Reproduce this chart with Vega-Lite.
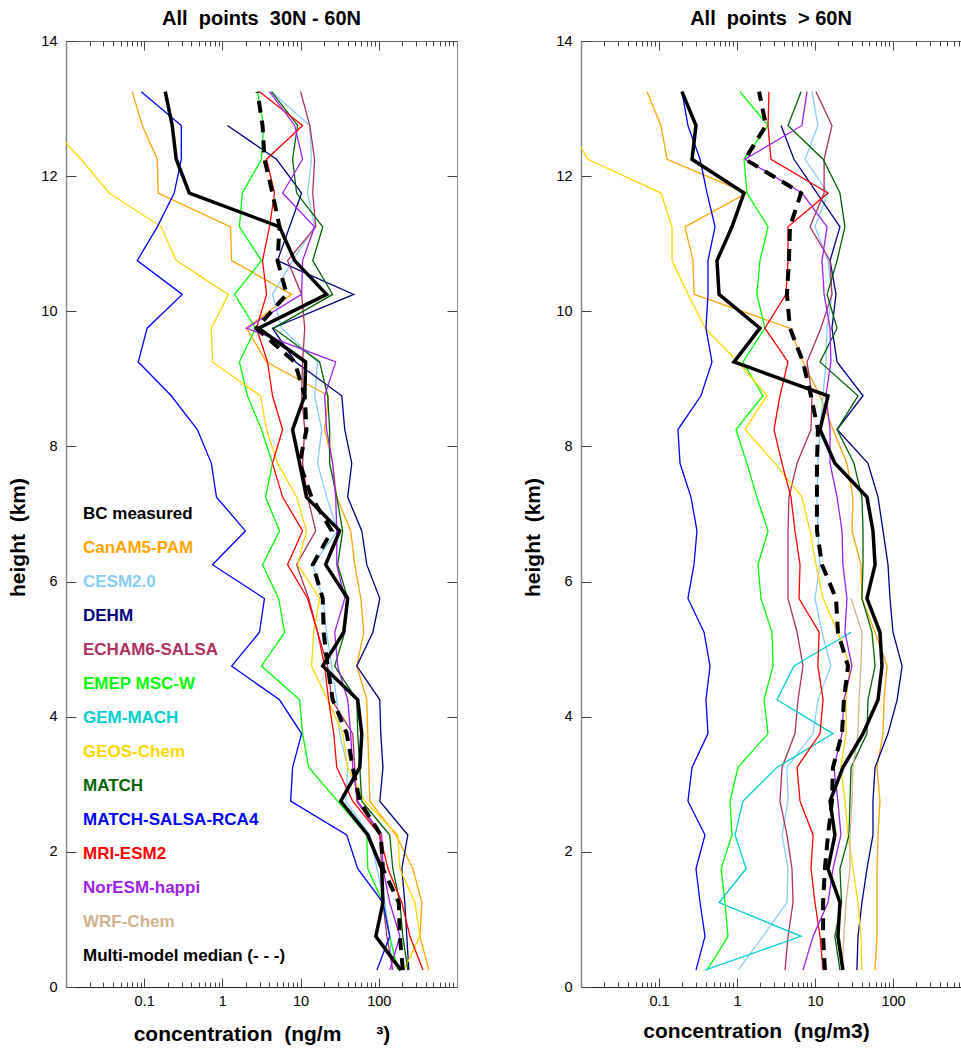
{
"$schema":"https://vega.github.io/schema/vega-lite/v6.json",
"padding":{"left":7,"top":9,"right":0,"bottom":0},
"spacing":64,
"config":{"font":"Liberation Sans","view":{"stroke":null},
"axis":{"labelFont":"Liberation Sans","labelFontSize":14.5,"labelColor":"#000","titleFont":"Liberation Sans","titleFontSize":21,"titleFontWeight":"bold","titleColor":"#000","grid":false,"domainColor":"#666","tickColor":"#444"},
"title":{"font":"Liberation Sans","fontSize":20,"fontWeight":"bold","color":"#000","offset":4}},
"datasets":{
"left":[
{"s":"BC measured","h":13.25,"c":0.186},{"s":"BC measured","h":12.75,"c":0.228},{"s":"BC measured","h":12.25,"c":0.257},{"s":"BC measured","h":11.75,"c":0.378},{"s":"BC measured","h":11.25,"c":5.38},{"s":"BC measured","h":10.75,"c":8.4},{"s":"BC measured","h":10.25,"c":21.5},{"s":"BC measured","h":9.75,"c":2.9},{"s":"BC measured","h":9.25,"c":11.6},{"s":"BC measured","h":8.75,"c":11.3},{"s":"BC measured","h":8.25,"c":7.9},{"s":"BC measured","h":7.75,"c":9.71},{"s":"BC measured","h":7.25,"c":11.9},{"s":"BC measured","h":6.75,"c":31.6},{"s":"BC measured","h":6.25,"c":20.9},{"s":"BC measured","h":5.75,"c":40},{"s":"BC measured","h":5.25,"c":35.6},{"s":"BC measured","h":4.75,"c":19.2},{"s":"BC measured","h":4.25,"c":53.8},{"s":"BC measured","h":3.75,"c":60.6},{"s":"BC measured","h":3.25,"c":57.1},{"s":"BC measured","h":2.75,"c":32.6},{"s":"BC measured","h":2.25,"c":72.3},{"s":"BC measured","h":1.75,"c":109},{"s":"BC measured","h":1.25,"c":113},{"s":"BC measured","h":0.75,"c":91.6},{"s":"BC measured","h":0.25,"c":192},
{"s":"Multi-model median (- - -)","h":13.25,"c":2.81},{"s":"Multi-model median (- - -)","h":12.75,"c":3.26},{"s":"Multi-model median (- - -)","h":12.25,"c":3.45},{"s":"Multi-model median (- - -)","h":11.75,"c":4.37},{"s":"Multi-model median (- - -)","h":11.25,"c":5.38},{"s":"Multi-model median (- - -)","h":10.75,"c":5.07},{"s":"Multi-model median (- - -)","h":10.25,"c":6.63},{"s":"Multi-model median (- - -)","h":9.75,"c":2.73},{"s":"Multi-model median (- - -)","h":9.25,"c":8.4},{"s":"Multi-model median (- - -)","h":8.75,"c":11.3},{"s":"Multi-model median (- - -)","h":8.25,"c":11.9},{"s":"Multi-model median (- - -)","h":7.75,"c":9.71},{"s":"Multi-model median (- - -)","h":7.25,"c":13.8},{"s":"Multi-model median (- - -)","h":6.75,"c":25},{"s":"Multi-model median (- - -)","h":6.25,"c":14.3},{"s":"Multi-model median (- - -)","h":5.75,"c":19.2},{"s":"Multi-model median (- - -)","h":5.25,"c":19.7},{"s":"Multi-model median (- - -)","h":4.75,"c":22.2},{"s":"Multi-model median (- - -)","h":4.25,"c":25.7},{"s":"Multi-model median (- - -)","h":3.75,"c":38.9},{"s":"Multi-model median (- - -)","h":3.25,"c":46.4},{"s":"Multi-model median (- - -)","h":2.75,"c":57.1},{"s":"Multi-model median (- - -)","h":2.25,"c":106},{"s":"Multi-model median (- - -)","h":1.75,"c":113},{"s":"Multi-model median (- - -)","h":1.25,"c":180},{"s":"Multi-model median (- - -)","h":0.75,"c":186},{"s":"Multi-model median (- - -)","h":0.25,"c":203},
{"s":"CanAM5-PAM","h":13.25,"c":0.0702},{"s":"CanAM5-PAM","h":12.75,"c":0.0946},{"s":"CanAM5-PAM","h":12.25,"c":0.147},{"s":"CanAM5-PAM","h":11.75,"c":0.151},{"s":"CanAM5-PAM","h":11.25,"c":1.27},{"s":"CanAM5-PAM","h":10.75,"c":1.31},{"s":"CanAM5-PAM","h":10.25,"c":7.67},{"s":"CanAM5-PAM","h":9.75,"c":2.03},{"s":"CanAM5-PAM","h":9.25,"c":3.67},{"s":"CanAM5-PAM","h":8.75,"c":22.8},{"s":"CanAM5-PAM","h":8.25,"c":20.3},{"s":"CanAM5-PAM","h":7.75,"c":25.7},{"s":"CanAM5-PAM","h":7.25,"c":29},{"s":"CanAM5-PAM","h":6.75,"c":43.7},{"s":"CanAM5-PAM","h":6.25,"c":49.2},{"s":"CanAM5-PAM","h":5.75,"c":58.9},{"s":"CanAM5-PAM","h":5.25,"c":64.3},{"s":"CanAM5-PAM","h":4.75,"c":52.3},{"s":"CanAM5-PAM","h":4.25,"c":70.2},{"s":"CanAM5-PAM","h":3.75,"c":72.3},{"s":"CanAM5-PAM","h":3.25,"c":74.6},{"s":"CanAM5-PAM","h":2.75,"c":76.7},{"s":"CanAM5-PAM","h":2.25,"c":165},{"s":"CanAM5-PAM","h":1.75,"c":273},{"s":"CanAM5-PAM","h":1.25,"c":356},{"s":"CanAM5-PAM","h":0.75,"c":336},{"s":"CanAM5-PAM","h":0.25,"c":437},
{"s":"CESM2.0","h":13.25,"c":4.25},{"s":"CESM2.0","h":12.75,"c":13.1},{"s":"CESM2.0","h":12.25,"c":13.8},{"s":"CESM2.0","h":11.75,"c":12.3},{"s":"CESM2.0","h":11.25,"c":15.1},{"s":"CESM2.0","h":10.75,"c":7.9},{"s":"CESM2.0","h":10.25,"c":4.37},{"s":"CESM2.0","h":9.75,"c":5.71},{"s":"CESM2.0","h":9.25,"c":16.5},{"s":"CESM2.0","h":8.75,"c":15.1},{"s":"CESM2.0","h":8.25,"c":18.6},{"s":"CESM2.0","h":7.75,"c":16.5},{"s":"CESM2.0","h":7.25,"c":21.5},{"s":"CESM2.0","h":6.75,"c":29.8},{"s":"CESM2.0","h":6.25,"c":14.3},{"s":"CESM2.0","h":5.75,"c":19.2},{"s":"CESM2.0","h":5.25,"c":21.5},{"s":"CESM2.0","h":4.75,"c":25},{"s":"CESM2.0","h":4.25,"c":29},{"s":"CESM2.0","h":3.75,"c":31.6},{"s":"CESM2.0","h":3.25,"c":40},{"s":"CESM2.0","h":2.75,"c":37.8},{"s":"CESM2.0","h":2.25,"c":76.7},{"s":"CESM2.0","h":1.75,"c":94.6},{"s":"CESM2.0","h":1.25,"c":119},{"s":"CESM2.0","h":0.75,"c":138},{"s":"CESM2.0","h":0.25,"c":147},
{"s":"DEHM","h":12.75,"c":1.16},{"s":"DEHM","h":12.25,"c":4.92},{"s":"DEHM","h":11.75,"c":10.3},{"s":"DEHM","h":11.25,"c":7.23},{"s":"DEHM","h":10.75,"c":5.07},{"s":"DEHM","h":10.25,"c":47.8},{"s":"DEHM","h":9.75,"c":4.37},{"s":"DEHM","h":9.25,"c":8.63},{"s":"DEHM","h":8.75,"c":33.6},{"s":"DEHM","h":8.25,"c":36.7},{"s":"DEHM","h":7.75,"c":45.1},{"s":"DEHM","h":7.25,"c":40},{"s":"DEHM","h":6.75,"c":60.6},{"s":"DEHM","h":6.25,"c":70.2},{"s":"DEHM","h":5.75,"c":103},{"s":"DEHM","h":5.25,"c":84},{"s":"DEHM","h":4.75,"c":52.3},{"s":"DEHM","h":4.25,"c":103},{"s":"DEHM","h":3.75,"c":106},{"s":"DEHM","h":3.25,"c":113},{"s":"DEHM","h":2.75,"c":103},{"s":"DEHM","h":2.25,"c":235},{"s":"DEHM","h":1.75,"c":197},{"s":"DEHM","h":1.25,"c":215},{"s":"DEHM","h":0.75,"c":228},{"s":"DEHM","h":0.25,"c":242},
{"s":"ECHAM6-SALSA","h":13.25,"c":10},{"s":"ECHAM6-SALSA","h":12.75,"c":13.1},{"s":"ECHAM6-SALSA","h":12.25,"c":15.1},{"s":"ECHAM6-SALSA","h":11.75,"c":14.3},{"s":"ECHAM6-SALSA","h":11.25,"c":15.6},{"s":"ECHAM6-SALSA","h":10.75,"c":6.81},{"s":"ECHAM6-SALSA","h":10.25,"c":10.3},{"s":"ECHAM6-SALSA","h":9.75,"c":11.3},{"s":"ECHAM6-SALSA","h":9.25,"c":10.6},{"s":"ECHAM6-SALSA","h":8.75,"c":10.3},{"s":"ECHAM6-SALSA","h":8.25,"c":11.3},{"s":"ECHAM6-SALSA","h":7.75,"c":10.6},{"s":"ECHAM6-SALSA","h":7.25,"c":12.3},{"s":"ECHAM6-SALSA","h":6.75,"c":15.6},{"s":"ECHAM6-SALSA","h":6.25,"c":8.89},{"s":"ECHAM6-SALSA","h":5.75,"c":12.7},{"s":"ECHAM6-SALSA","h":5.25,"c":16.5},{"s":"ECHAM6-SALSA","h":4.75,"c":22.2},{"s":"ECHAM6-SALSA","h":4.25,"c":25},{"s":"ECHAM6-SALSA","h":3.75,"c":46.4},{"s":"ECHAM6-SALSA","h":3.25,"c":49.2},{"s":"ECHAM6-SALSA","h":2.75,"c":52.3},{"s":"ECHAM6-SALSA","h":2.25,"c":103},{"s":"ECHAM6-SALSA","h":1.75,"c":109},{"s":"ECHAM6-SALSA","h":1.25,"c":113},{"s":"ECHAM6-SALSA","h":0.75,"c":127},{"s":"ECHAM6-SALSA","h":0.25,"c":151},
{"s":"EMEP MSC-W","h":13.25,"c":2.81},{"s":"EMEP MSC-W","h":12.75,"c":3.36},{"s":"EMEP MSC-W","h":12.25,"c":3.16},{"s":"EMEP MSC-W","h":11.75,"c":1.8},{"s":"EMEP MSC-W","h":11.25,"c":1.65},{"s":"EMEP MSC-W","h":10.75,"c":3.16},{"s":"EMEP MSC-W","h":10.25,"c":1.43},{"s":"EMEP MSC-W","h":9.75,"c":2.65},{"s":"EMEP MSC-W","h":9.25,"c":1.65},{"s":"EMEP MSC-W","h":8.75,"c":2.09},{"s":"EMEP MSC-W","h":8.25,"c":3.16},{"s":"EMEP MSC-W","h":7.75,"c":4.37},{"s":"EMEP MSC-W","h":7.25,"c":3.56},{"s":"EMEP MSC-W","h":6.75,"c":5.38},{"s":"EMEP MSC-W","h":6.25,"c":3.26},{"s":"EMEP MSC-W","h":5.75,"c":5.23},{"s":"EMEP MSC-W","h":5.25,"c":6.24},{"s":"EMEP MSC-W","h":4.75,"c":3.16},{"s":"EMEP MSC-W","h":4.25,"c":9.71},{"s":"EMEP MSC-W","h":3.75,"c":10.6},{"s":"EMEP MSC-W","h":3.25,"c":12.7},{"s":"EMEP MSC-W","h":2.75,"c":29.8},{"s":"EMEP MSC-W","h":2.25,"c":70.2},{"s":"EMEP MSC-W","h":1.75,"c":72.3},{"s":"EMEP MSC-W","h":1.25,"c":113},{"s":"EMEP MSC-W","h":0.75,"c":138},{"s":"EMEP MSC-W","h":0.25,"c":175},
{"s":"GEOS-Chem","h":12.75,"c":0.0062},{"s":"GEOS-Chem","h":12.25,"c":0.0156},{"s":"GEOS-Chem","h":11.75,"c":0.0356},{"s":"GEOS-Chem","h":11.25,"c":0.165},{"s":"GEOS-Chem","h":10.75,"c":0.257},{"s":"GEOS-Chem","h":10.25,"c":1.19},{"s":"GEOS-Chem","h":9.75,"c":0.723},{"s":"GEOS-Chem","h":9.25,"c":0.746},{"s":"GEOS-Chem","h":8.75,"c":3.07},{"s":"GEOS-Chem","h":8.25,"c":3.67},{"s":"GEOS-Chem","h":7.75,"c":5.07},{"s":"GEOS-Chem","h":7.25,"c":8.89},{"s":"GEOS-Chem","h":6.75,"c":11.9},{"s":"GEOS-Chem","h":6.25,"c":9.16},{"s":"GEOS-Chem","h":5.75,"c":17.5},{"s":"GEOS-Chem","h":5.25,"c":14.7},{"s":"GEOS-Chem","h":4.75,"c":13.8},{"s":"GEOS-Chem","h":4.25,"c":22.2},{"s":"GEOS-Chem","h":3.75,"c":34.6},{"s":"GEOS-Chem","h":3.25,"c":40},{"s":"GEOS-Chem","h":2.75,"c":66.3},{"s":"GEOS-Chem","h":2.25,"c":175},{"s":"GEOS-Chem","h":1.75,"c":186},{"s":"GEOS-Chem","h":1.25,"c":290},{"s":"GEOS-Chem","h":0.75,"c":336},{"s":"GEOS-Chem","h":0.25,"c":209},
{"s":"MATCH","h":13.25,"c":4.25},{"s":"MATCH","h":12.75,"c":9.16},{"s":"MATCH","h":12.25,"c":7.9},{"s":"MATCH","h":11.75,"c":8.89},{"s":"MATCH","h":11.25,"c":19.2},{"s":"MATCH","h":10.75,"c":14.3},{"s":"MATCH","h":10.25,"c":25.7},{"s":"MATCH","h":9.75,"c":4.51},{"s":"MATCH","h":9.25,"c":17.5},{"s":"MATCH","h":8.75,"c":22.2},{"s":"MATCH","h":8.25,"c":23.5},{"s":"MATCH","h":7.75,"c":23.5},{"s":"MATCH","h":7.25,"c":29},{"s":"MATCH","h":6.75,"c":34.5},{"s":"MATCH","h":6.25,"c":29.8},{"s":"MATCH","h":5.75,"c":40},{"s":"MATCH","h":5.25,"c":36.7},{"s":"MATCH","h":4.75,"c":27.3},{"s":"MATCH","h":4.25,"c":52.3},{"s":"MATCH","h":3.75,"c":53.8},{"s":"MATCH","h":3.25,"c":57.1},{"s":"MATCH","h":2.75,"c":60.6},{"s":"MATCH","h":2.25,"c":138},{"s":"MATCH","h":1.75,"c":151},{"s":"MATCH","h":1.25,"c":186},{"s":"MATCH","h":0.75,"c":203},{"s":"MATCH","h":0.25,"c":235},
{"s":"MATCH-SALSA-RCA4","h":13.25,"c":0.0916},{"s":"MATCH-SALSA-RCA4","h":12.75,"c":0.298},{"s":"MATCH-SALSA-RCA4","h":12.25,"c":0.298},{"s":"MATCH-SALSA-RCA4","h":11.75,"c":0.242},{"s":"MATCH-SALSA-RCA4","h":11.25,"c":0.147},{"s":"MATCH-SALSA-RCA4","h":10.75,"c":0.0814},{"s":"MATCH-SALSA-RCA4","h":10.25,"c":0.307},{"s":"MATCH-SALSA-RCA4","h":9.75,"c":0.109},{"s":"MATCH-SALSA-RCA4","h":9.25,"c":0.084},{"s":"MATCH-SALSA-RCA4","h":8.75,"c":0.222},{"s":"MATCH-SALSA-RCA4","h":8.25,"c":0.478},{"s":"MATCH-SALSA-RCA4","h":7.75,"c":0.723},{"s":"MATCH-SALSA-RCA4","h":7.25,"c":0.84},{"s":"MATCH-SALSA-RCA4","h":6.75,"c":1.97},{"s":"MATCH-SALSA-RCA4","h":6.25,"c":0.746},{"s":"MATCH-SALSA-RCA4","h":5.75,"c":3.45},{"s":"MATCH-SALSA-RCA4","h":5.25,"c":2.98},{"s":"MATCH-SALSA-RCA4","h":4.75,"c":1.31},{"s":"MATCH-SALSA-RCA4","h":4.25,"c":5.38},{"s":"MATCH-SALSA-RCA4","h":3.75,"c":10.3},{"s":"MATCH-SALSA-RCA4","h":3.25,"c":7.9},{"s":"MATCH-SALSA-RCA4","h":2.75,"c":7.46},{"s":"MATCH-SALSA-RCA4","h":2.25,"c":38.9},{"s":"MATCH-SALSA-RCA4","h":1.75,"c":53.8},{"s":"MATCH-SALSA-RCA4","h":1.25,"c":113},{"s":"MATCH-SALSA-RCA4","h":0.75,"c":138},{"s":"MATCH-SALSA-RCA4","h":0.25,"c":94.6},
{"s":"MRI-ESM2","h":13.25,"c":2.98},{"s":"MRI-ESM2","h":12.75,"c":10.6},{"s":"MRI-ESM2","h":12.25,"c":3.67},{"s":"MRI-ESM2","h":11.75,"c":4.64},{"s":"MRI-ESM2","h":11.25,"c":4},{"s":"MRI-ESM2","h":10.75,"c":3.26},{"s":"MRI-ESM2","h":10.25,"c":3.67},{"s":"MRI-ESM2","h":9.75,"c":2.73},{"s":"MRI-ESM2","h":9.25,"c":3.78},{"s":"MRI-ESM2","h":8.75,"c":4.37},{"s":"MRI-ESM2","h":8.25,"c":5.89},{"s":"MRI-ESM2","h":7.75,"c":4.37},{"s":"MRI-ESM2","h":7.25,"c":5.89},{"s":"MRI-ESM2","h":6.75,"c":10.6},{"s":"MRI-ESM2","h":6.25,"c":6.81},{"s":"MRI-ESM2","h":5.75,"c":12.3},{"s":"MRI-ESM2","h":5.25,"c":16.5},{"s":"MRI-ESM2","h":4.75,"c":20.3},{"s":"MRI-ESM2","h":4.25,"c":22.8},{"s":"MRI-ESM2","h":3.75,"c":26.5},{"s":"MRI-ESM2","h":3.25,"c":29},{"s":"MRI-ESM2","h":2.75,"c":46.4},{"s":"MRI-ESM2","h":2.25,"c":103},{"s":"MRI-ESM2","h":1.75,"c":131},{"s":"MRI-ESM2","h":1.25,"c":197},{"s":"MRI-ESM2","h":0.75,"c":250},{"s":"MRI-ESM2","h":0.25,"c":367},
{"s":"NorESM-happi","h":13.25,"c":4},{"s":"NorESM-happi","h":12.75,"c":8.4},{"s":"NorESM-happi","h":12.25,"c":10.6},{"s":"NorESM-happi","h":11.75,"c":5.89},{"s":"NorESM-happi","h":11.25,"c":15.1},{"s":"NorESM-happi","h":10.75,"c":10.6},{"s":"NorESM-happi","h":10.25,"c":10.3},{"s":"NorESM-happi","h":9.75,"c":2.03},{"s":"NorESM-happi","h":9.25,"c":28.1},{"s":"NorESM-happi","h":8.75,"c":20.3},{"s":"NorESM-happi","h":8.25,"c":21.5},{"s":"NorESM-happi","h":7.75,"c":25.7},{"s":"NorESM-happi","h":7.25,"c":28.1},{"s":"NorESM-happi","h":6.75,"c":29},{"s":"NorESM-happi","h":6.25,"c":29},{"s":"NorESM-happi","h":5.75,"c":36.7},{"s":"NorESM-happi","h":5.25,"c":27.3},{"s":"NorESM-happi","h":4.75,"c":29.8},{"s":"NorESM-happi","h":4.25,"c":40},{"s":"NorESM-happi","h":3.75,"c":43.7},{"s":"NorESM-happi","h":3.25,"c":46.4},{"s":"NorESM-happi","h":2.75,"c":53.8},{"s":"NorESM-happi","h":2.25,"c":109},{"s":"NorESM-happi","h":1.75,"c":113},{"s":"NorESM-happi","h":1.25,"c":138},{"s":"NorESM-happi","h":0.75,"c":186},{"s":"NorESM-happi","h":0.25,"c":138}
],
"right":[
{"s":"BC measured","h":13.25,"c":0.197},{"s":"BC measured","h":12.75,"c":0.298},{"s":"BC measured","h":12.25,"c":0.265},{"s":"BC measured","h":11.75,"c":1.23},{"s":"BC measured","h":11.25,"c":0.863},{"s":"BC measured","h":10.75,"c":0.554},{"s":"BC measured","h":10.25,"c":0.589},{"s":"BC measured","h":9.75,"c":1.97},{"s":"BC measured","h":9.25,"c":0.916},{"s":"BC measured","h":8.75,"c":14.7},{"s":"BC measured","h":8.25,"c":11.6},{"s":"BC measured","h":7.75,"c":18},{"s":"BC measured","h":7.25,"c":46.4},{"s":"BC measured","h":6.75,"c":55.4},{"s":"BC measured","h":6.25,"c":58.9},{"s":"BC measured","h":5.75,"c":46.4},{"s":"BC measured","h":5.25,"c":68.1},{"s":"BC measured","h":4.75,"c":72.3},{"s":"BC measured","h":4.25,"c":64.3},{"s":"BC measured","h":3.75,"c":41.3},{"s":"BC measured","h":3.25,"c":22.8},{"s":"BC measured","h":2.75,"c":15.6},{"s":"BC measured","h":2.25,"c":18},{"s":"BC measured","h":1.75,"c":14.7},{"s":"BC measured","h":1.25,"c":20.9},{"s":"BC measured","h":0.75,"c":19.7},{"s":"BC measured","h":0.25,"c":22.8},
{"s":"Multi-model median (- - -)","h":13.25,"c":1.92},{"s":"Multi-model median (- - -)","h":12.75,"c":2.35},{"s":"Multi-model median (- - -)","h":12.25,"c":1.27},{"s":"Multi-model median (- - -)","h":11.75,"c":6.63},{"s":"Multi-model median (- - -)","h":11.25,"c":4.78},{"s":"Multi-model median (- - -)","h":10.75,"c":4.64},{"s":"Multi-model median (- - -)","h":10.25,"c":4.37},{"s":"Multi-model median (- - -)","h":9.75,"c":4.78},{"s":"Multi-model median (- - -)","h":9.25,"c":7.02},{"s":"Multi-model median (- - -)","h":8.75,"c":8.89},{"s":"Multi-model median (- - -)","h":8.25,"c":10.9},{"s":"Multi-model median (- - -)","h":7.75,"c":10.6},{"s":"Multi-model median (- - -)","h":7.25,"c":10.6},{"s":"Multi-model median (- - -)","h":6.75,"c":10.6},{"s":"Multi-model median (- - -)","h":6.25,"c":12.3},{"s":"Multi-model median (- - -)","h":5.75,"c":18.6},{"s":"Multi-model median (- - -)","h":5.25,"c":19.7},{"s":"Multi-model median (- - -)","h":4.75,"c":26.5},{"s":"Multi-model median (- - -)","h":4.25,"c":23.5},{"s":"Multi-model median (- - -)","h":3.75,"c":22.2},{"s":"Multi-model median (- - -)","h":3.25,"c":17},{"s":"Multi-model median (- - -)","h":2.75,"c":16.5},{"s":"Multi-model median (- - -)","h":2.25,"c":14.7},{"s":"Multi-model median (- - -)","h":1.75,"c":13.4},{"s":"Multi-model median (- - -)","h":1.25,"c":12.7},{"s":"Multi-model median (- - -)","h":0.75,"c":12.7},{"s":"Multi-model median (- - -)","h":0.25,"c":13.4},
{"s":"CanAM5-PAM","h":13.25,"c":0.0702},{"s":"CanAM5-PAM","h":12.75,"c":0.106},{"s":"CanAM5-PAM","h":12.25,"c":0.127},{"s":"CanAM5-PAM","h":11.75,"c":1.34},{"s":"CanAM5-PAM","h":11.25,"c":0.215},{"s":"CanAM5-PAM","h":10.75,"c":0.273},{"s":"CanAM5-PAM","h":10.25,"c":0.281},{"s":"CanAM5-PAM","h":9.75,"c":4.78},{"s":"CanAM5-PAM","h":9.25,"c":7.02},{"s":"CanAM5-PAM","h":8.75,"c":11.6},{"s":"CanAM5-PAM","h":8.25,"c":17},{"s":"CanAM5-PAM","h":7.75,"c":25.7},{"s":"CanAM5-PAM","h":7.25,"c":30.7},{"s":"CanAM5-PAM","h":6.75,"c":29.8},{"s":"CanAM5-PAM","h":6.25,"c":38.9},{"s":"CanAM5-PAM","h":5.75,"c":40},{"s":"CanAM5-PAM","h":5.25,"c":58.9},{"s":"CanAM5-PAM","h":4.75,"c":84},{"s":"CanAM5-PAM","h":4.25,"c":76.7},{"s":"CanAM5-PAM","h":3.75,"c":74.6},{"s":"CanAM5-PAM","h":3.25,"c":62.4},{"s":"CanAM5-PAM","h":2.75,"c":68.1},{"s":"CanAM5-PAM","h":2.25,"c":64.3},{"s":"CanAM5-PAM","h":1.75,"c":62.4},{"s":"CanAM5-PAM","h":1.25,"c":62.4},{"s":"CanAM5-PAM","h":0.75,"c":62.4},{"s":"CanAM5-PAM","h":0.25,"c":58.9},
{"s":"CESM2.0","h":13.25,"c":9.16},{"s":"CESM2.0","h":12.75,"c":10.9},{"s":"CESM2.0","h":12.25,"c":7.46},{"s":"CESM2.0","h":11.75,"c":14.7},{"s":"CESM2.0","h":11.25,"c":10},{"s":"CESM2.0","h":10.75,"c":14.7},{"s":"CESM2.0","h":10.25,"c":16.5},{"s":"CESM2.0","h":9.75,"c":14.3},{"s":"CESM2.0","h":9.25,"c":13.8},{"s":"CESM2.0","h":8.75,"c":12.7},{"s":"CESM2.0","h":8.25,"c":11.6},{"s":"CESM2.0","h":7.75,"c":10.9},{"s":"CESM2.0","h":7.25,"c":10.6},{"s":"CESM2.0","h":6.75,"c":10.9},{"s":"CESM2.0","h":6.25,"c":11.6},{"s":"CESM2.0","h":5.75,"c":10},{"s":"CESM2.0","h":5.25,"c":12.3},{"s":"CESM2.0","h":4.75,"c":16},{"s":"CESM2.0","h":4.25,"c":10.9},{"s":"CESM2.0","h":3.75,"c":9.46},{"s":"CESM2.0","h":3.25,"c":4.37},{"s":"CESM2.0","h":2.75,"c":4.51},{"s":"CESM2.0","h":2.25,"c":3.78},{"s":"CESM2.0","h":1.75,"c":4.51},{"s":"CESM2.0","h":1.25,"c":4.37},{"s":"CESM2.0","h":0.75,"c":2.15},{"s":"CESM2.0","h":0.25,"c":1.03},
{"s":"DEHM","h":12.75,"c":3.67},{"s":"DEHM","h":12.25,"c":5.38},{"s":"DEHM","h":11.75,"c":10.6},{"s":"DEHM","h":11.25,"c":20.9},{"s":"DEHM","h":10.75,"c":15.6},{"s":"DEHM","h":10.25,"c":18.6},{"s":"DEHM","h":9.75,"c":16.5},{"s":"DEHM","h":9.25,"c":19.2},{"s":"DEHM","h":8.75,"c":41.3},{"s":"DEHM","h":8.25,"c":19.2},{"s":"DEHM","h":7.75,"c":47.8},{"s":"DEHM","h":7.25,"c":64.3},{"s":"DEHM","h":6.75,"c":74.6},{"s":"DEHM","h":6.25,"c":86.3},{"s":"DEHM","h":5.75,"c":91.6},{"s":"DEHM","h":5.25,"c":100},{"s":"DEHM","h":4.75,"c":131},{"s":"DEHM","h":4.25,"c":113},{"s":"DEHM","h":3.75,"c":86.3},{"s":"DEHM","h":3.25,"c":58.9},{"s":"DEHM","h":2.75,"c":55.4},{"s":"DEHM","h":2.25,"c":55.4},{"s":"DEHM","h":1.75,"c":46.4},{"s":"DEHM","h":1.25,"c":40},{"s":"DEHM","h":0.75,"c":35.6},{"s":"DEHM","h":0.25,"c":34.5},
{"s":"ECHAM6-SALSA","h":13.25,"c":10.3},{"s":"ECHAM6-SALSA","h":12.75,"c":16.5},{"s":"ECHAM6-SALSA","h":12.25,"c":13.1},{"s":"ECHAM6-SALSA","h":11.75,"c":13.1},{"s":"ECHAM6-SALSA","h":11.25,"c":8.63},{"s":"ECHAM6-SALSA","h":10.75,"c":15.6},{"s":"ECHAM6-SALSA","h":10.25,"c":16.5},{"s":"ECHAM6-SALSA","h":9.75,"c":11.9},{"s":"ECHAM6-SALSA","h":9.25,"c":7.9},{"s":"ECHAM6-SALSA","h":8.75,"c":9.16},{"s":"ECHAM6-SALSA","h":8.25,"c":8.89},{"s":"ECHAM6-SALSA","h":7.75,"c":5.89},{"s":"ECHAM6-SALSA","h":7.25,"c":4.64},{"s":"ECHAM6-SALSA","h":6.75,"c":4.51},{"s":"ECHAM6-SALSA","h":6.25,"c":4.51},{"s":"ECHAM6-SALSA","h":5.75,"c":4.51},{"s":"ECHAM6-SALSA","h":5.25,"c":5.89},{"s":"ECHAM6-SALSA","h":4.75,"c":7.02},{"s":"ECHAM6-SALSA","h":4.25,"c":6.06},{"s":"ECHAM6-SALSA","h":3.75,"c":5.54},{"s":"ECHAM6-SALSA","h":3.25,"c":3.78},{"s":"ECHAM6-SALSA","h":2.75,"c":3.56},{"s":"ECHAM6-SALSA","h":2.25,"c":4.37},{"s":"ECHAM6-SALSA","h":1.75,"c":5.07},{"s":"ECHAM6-SALSA","h":1.25,"c":5.23},{"s":"ECHAM6-SALSA","h":0.75,"c":4.51},{"s":"ECHAM6-SALSA","h":0.25,"c":4.13},
{"s":"EMEP MSC-W","h":13.25,"c":1.09},{"s":"EMEP MSC-W","h":12.75,"c":2.5},{"s":"EMEP MSC-W","h":12.25,"c":1.23},{"s":"EMEP MSC-W","h":11.75,"c":1.34},{"s":"EMEP MSC-W","h":11.25,"c":2.5},{"s":"EMEP MSC-W","h":10.75,"c":1.97},{"s":"EMEP MSC-W","h":10.25,"c":1.8},{"s":"EMEP MSC-W","h":9.75,"c":2.28},{"s":"EMEP MSC-W","h":9.25,"c":1.19},{"s":"EMEP MSC-W","h":8.75,"c":2.15},{"s":"EMEP MSC-W","h":8.25,"c":0.971},{"s":"EMEP MSC-W","h":7.75,"c":1.34},{"s":"EMEP MSC-W","h":7.25,"c":1.8},{"s":"EMEP MSC-W","h":6.75,"c":2.5},{"s":"EMEP MSC-W","h":6.25,"c":1.86},{"s":"EMEP MSC-W","h":5.75,"c":2.03},{"s":"EMEP MSC-W","h":5.25,"c":2.81},{"s":"EMEP MSC-W","h":4.75,"c":2.9},{"s":"EMEP MSC-W","h":4.25,"c":2.22},{"s":"EMEP MSC-W","h":3.75,"c":2.5},{"s":"EMEP MSC-W","h":3.25,"c":1.03},{"s":"EMEP MSC-W","h":2.75,"c":0.814},{"s":"EMEP MSC-W","h":2.25,"c":0.863},{"s":"EMEP MSC-W","h":1.75,"c":0.624},{"s":"EMEP MSC-W","h":1.25,"c":0.702},{"s":"EMEP MSC-W","h":0.75,"c":0.767},{"s":"EMEP MSC-W","h":0.25,"c":0.413},
{"s":"GEM-MACH","h":5.25,"c":29},{"s":"GEM-MACH","h":4.75,"c":5.38},{"s":"GEM-MACH","h":4.25,"c":3.26},{"s":"GEM-MACH","h":3.75,"c":17},{"s":"GEM-MACH","h":3.25,"c":3.26},{"s":"GEM-MACH","h":2.75,"c":1.19},{"s":"GEM-MACH","h":2.25,"c":0.946},{"s":"GEM-MACH","h":1.75,"c":1.31},{"s":"GEM-MACH","h":1.25,"c":0.589},{"s":"GEM-MACH","h":0.75,"c":6.63},{"s":"GEM-MACH","h":0.25,"c":0.389},
{"s":"GEOS-Chem","h":12.75,"c":0.0068},{"s":"GEOS-Chem","h":12.25,"c":0.0123},{"s":"GEOS-Chem","h":11.75,"c":0.106},{"s":"GEOS-Chem","h":11.25,"c":0.147},{"s":"GEOS-Chem","h":10.75,"c":0.147},{"s":"GEOS-Chem","h":10.25,"c":0.235},{"s":"GEOS-Chem","h":9.75,"c":0.389},{"s":"GEOS-Chem","h":9.25,"c":1.03},{"s":"GEOS-Chem","h":8.75,"c":2.42},{"s":"GEOS-Chem","h":8.25,"c":1.27},{"s":"GEOS-Chem","h":7.75,"c":3.07},{"s":"GEOS-Chem","h":7.25,"c":6.81},{"s":"GEOS-Chem","h":6.75,"c":8.63},{"s":"GEOS-Chem","h":6.25,"c":10.3},{"s":"GEOS-Chem","h":5.75,"c":12.7},{"s":"GEOS-Chem","h":5.25,"c":19.7},{"s":"GEOS-Chem","h":4.75,"c":28.1},{"s":"GEOS-Chem","h":4.25,"c":25},{"s":"GEOS-Chem","h":3.75,"c":25},{"s":"GEOS-Chem","h":3.25,"c":21.5},{"s":"GEOS-Chem","h":2.75,"c":24.2},{"s":"GEOS-Chem","h":2.25,"c":26.5},{"s":"GEOS-Chem","h":1.75,"c":30.7},{"s":"GEOS-Chem","h":1.25,"c":35.6},{"s":"GEOS-Chem","h":0.75,"c":38.9},{"s":"GEOS-Chem","h":0.25,"c":40},
{"s":"MATCH","h":13.25,"c":6.63},{"s":"MATCH","h":12.75,"c":4.51},{"s":"MATCH","h":12.25,"c":12.7},{"s":"MATCH","h":11.75,"c":20.9},{"s":"MATCH","h":11.25,"c":24.2},{"s":"MATCH","h":10.75,"c":19.2},{"s":"MATCH","h":10.25,"c":14.3},{"s":"MATCH","h":9.75,"c":19.2},{"s":"MATCH","h":9.25,"c":11.6},{"s":"MATCH","h":8.75,"c":35.6},{"s":"MATCH","h":8.25,"c":19.2},{"s":"MATCH","h":7.75,"c":31.6},{"s":"MATCH","h":7.25,"c":40},{"s":"MATCH","h":6.75,"c":41.3},{"s":"MATCH","h":6.25,"c":41.3},{"s":"MATCH","h":5.75,"c":40},{"s":"MATCH","h":5.25,"c":53.8},{"s":"MATCH","h":4.75,"c":58.9},{"s":"MATCH","h":4.25,"c":47.8},{"s":"MATCH","h":3.75,"c":46.4},{"s":"MATCH","h":3.25,"c":29},{"s":"MATCH","h":2.75,"c":28.1},{"s":"MATCH","h":2.25,"c":27.3},{"s":"MATCH","h":1.75,"c":20.9},{"s":"MATCH","h":1.25,"c":21.9},{"s":"MATCH","h":0.75,"c":18},{"s":"MATCH","h":0.25,"c":20.9},
{"s":"MATCH-SALSA-RCA4","h":13.25,"c":0.197},{"s":"MATCH-SALSA-RCA4","h":12.75,"c":0.235},{"s":"MATCH-SALSA-RCA4","h":12.25,"c":0.336},{"s":"MATCH-SALSA-RCA4","h":11.75,"c":0.413},{"s":"MATCH-SALSA-RCA4","h":11.25,"c":0.523},{"s":"MATCH-SALSA-RCA4","h":10.75,"c":0.425},{"s":"MATCH-SALSA-RCA4","h":10.25,"c":0.425},{"s":"MATCH-SALSA-RCA4","h":9.75,"c":0.4},{"s":"MATCH-SALSA-RCA4","h":9.25,"c":0.478},{"s":"MATCH-SALSA-RCA4","h":8.75,"c":0.345},{"s":"MATCH-SALSA-RCA4","h":8.25,"c":0.175},{"s":"MATCH-SALSA-RCA4","h":7.75,"c":0.186},{"s":"MATCH-SALSA-RCA4","h":7.25,"c":0.257},{"s":"MATCH-SALSA-RCA4","h":6.75,"c":0.307},{"s":"MATCH-SALSA-RCA4","h":6.25,"c":0.281},{"s":"MATCH-SALSA-RCA4","h":5.75,"c":0.235},{"s":"MATCH-SALSA-RCA4","h":5.25,"c":0.378},{"s":"MATCH-SALSA-RCA4","h":4.75,"c":0.451},{"s":"MATCH-SALSA-RCA4","h":4.25,"c":0.4},{"s":"MATCH-SALSA-RCA4","h":3.75,"c":0.425},{"s":"MATCH-SALSA-RCA4","h":3.25,"c":0.265},{"s":"MATCH-SALSA-RCA4","h":2.75,"c":0.235},{"s":"MATCH-SALSA-RCA4","h":2.25,"c":0.389},{"s":"MATCH-SALSA-RCA4","h":1.75,"c":0.298},{"s":"MATCH-SALSA-RCA4","h":1.25,"c":0.336},{"s":"MATCH-SALSA-RCA4","h":0.75,"c":0.389},{"s":"MATCH-SALSA-RCA4","h":0.25,"c":0.298},
{"s":"MRI-ESM2","h":13.25,"c":2.57},{"s":"MRI-ESM2","h":12.75,"c":2.5},{"s":"MRI-ESM2","h":12.25,"c":2.73},{"s":"MRI-ESM2","h":11.75,"c":14.7},{"s":"MRI-ESM2","h":11.25,"c":4.51},{"s":"MRI-ESM2","h":10.75,"c":4.51},{"s":"MRI-ESM2","h":10.25,"c":4.25},{"s":"MRI-ESM2","h":9.75,"c":2.28},{"s":"MRI-ESM2","h":9.25,"c":4.51},{"s":"MRI-ESM2","h":8.75,"c":3.56},{"s":"MRI-ESM2","h":8.25,"c":2.98},{"s":"MRI-ESM2","h":7.75,"c":3.78},{"s":"MRI-ESM2","h":7.25,"c":4.92},{"s":"MRI-ESM2","h":6.75,"c":5.54},{"s":"MRI-ESM2","h":6.25,"c":6.43},{"s":"MRI-ESM2","h":5.75,"c":6.24},{"s":"MRI-ESM2","h":5.25,"c":11.3},{"s":"MRI-ESM2","h":4.75,"c":10.9},{"s":"MRI-ESM2","h":4.25,"c":12.7},{"s":"MRI-ESM2","h":3.75,"c":11.6},{"s":"MRI-ESM2","h":3.25,"c":5.89},{"s":"MRI-ESM2","h":2.75,"c":6.43},{"s":"MRI-ESM2","h":2.25,"c":9.46},{"s":"MRI-ESM2","h":1.75,"c":8.89},{"s":"MRI-ESM2","h":1.25,"c":10},{"s":"MRI-ESM2","h":0.75,"c":11.6},{"s":"MRI-ESM2","h":0.25,"c":12.7},
{"s":"NorESM-happi","h":13.25,"c":7.9},{"s":"NorESM-happi","h":12.75,"c":6.81},{"s":"NorESM-happi","h":12.25,"c":1.27},{"s":"NorESM-happi","h":11.75,"c":6.81},{"s":"NorESM-happi","h":11.25,"c":14.3},{"s":"NorESM-happi","h":10.75,"c":12.3},{"s":"NorESM-happi","h":10.25,"c":13.1},{"s":"NorESM-happi","h":9.75,"c":15.6},{"s":"NorESM-happi","h":9.25,"c":16},{"s":"NorESM-happi","h":8.75,"c":13.8},{"s":"NorESM-happi","h":8.25,"c":15.6},{"s":"NorESM-happi","h":7.75,"c":15.6},{"s":"NorESM-happi","h":7.25,"c":19.2},{"s":"NorESM-happi","h":6.75,"c":22.2},{"s":"NorESM-happi","h":6.25,"c":22.8},{"s":"NorESM-happi","h":5.75,"c":25.7},{"s":"NorESM-happi","h":5.25,"c":24.2},{"s":"NorESM-happi","h":4.75,"c":29.8},{"s":"NorESM-happi","h":4.25,"c":23.5},{"s":"NorESM-happi","h":3.75,"c":22.2},{"s":"NorESM-happi","h":3.25,"c":17.5},{"s":"NorESM-happi","h":2.75,"c":19.7},{"s":"NorESM-happi","h":2.25,"c":21.5},{"s":"NorESM-happi","h":1.75,"c":17},{"s":"NorESM-happi","h":1.25,"c":14.7},{"s":"NorESM-happi","h":0.75,"c":9.46},{"s":"NorESM-happi","h":0.25,"c":7.02},
{"s":"WRF-Chem","h":5.75,"c":29},{"s":"WRF-Chem","h":5.25,"c":40},{"s":"WRF-Chem","h":4.75,"c":38.9},{"s":"WRF-Chem","h":4.25,"c":36.7},{"s":"WRF-Chem","h":3.75,"c":35.6},{"s":"WRF-Chem","h":3.25,"c":30.7},{"s":"WRF-Chem","h":2.75,"c":29.8},{"s":"WRF-Chem","h":2.25,"c":28.1},{"s":"WRF-Chem","h":1.75,"c":28.1},{"s":"WRF-Chem","h":1.25,"c":25},{"s":"WRF-Chem","h":0.75,"c":23.5},{"s":"WRF-Chem","h":0.25,"c":22.2}
]},
"resolve":{"scale":{"color":"shared"}},
"hconcat":[
{"title":"All\u00a0\u00a0points\u00a0\u00a030N - 60N","width":391,"height":946,"data":{"name":"left"},
"resolve":{"axis":{"x":"independent","y":"independent"}},
"layer":[
{"transform":[{"filter":{"not":{"field":"s","oneOf":["BC measured","Multi-model median (- - -)"]}}}],
"mark":{"type":"line","strokeWidth":1.3,"clip":true},
"encoding":{
"x":{"field":"c","type":"quantitative","scale":{"type":"log","domain":[0.01,1000],"nice":false},"axis":{"orient":"bottom","values":[0.1,1,10,100],"format":"~g","ticks":false,"labelPadding":7,"domainColor":"#222","title":"concentration\u00a0\u00a0(ng/m\u00a0\u00a0\u00a0\u00a0\u00a0\u00a0³)","titlePadding":16}},
"y":{"field":"h","type":"quantitative","scale":{"domain":[0,14],"nice":false},"axis":{"orient":"left","values":[0,2,4,6,8,10,12,14],"ticks":false,"labelPadding":9,"domainColor":"#888","domainWidth":1.5,"title":"height\u00a0\u00a0(km)","titlePadding":12,"titleY":496}},
"color":{"field":"s","type":"nominal","scale":{"domain":["BC measured","CanAM5-PAM","CESM2.0","DEHM","ECHAM6-SALSA","EMEP MSC-W","GEM-MACH","GEOS-Chem","MATCH","MATCH-SALSA-RCA4","MRI-ESM2","NorESM-happi","WRF-Chem","Multi-model median (- - -)"],"range":["#000000","#FFA500","#87CEFA","#000080","#B03060","#00FF00","#00CED1","#FFD700","#006400","#0000FF","#FF0000","#A020F0","#D2B48C","#000000"]},
"legend":{"orient":"none","legendX":0,"legendY":464,"title":null,"symbolSize":0,"symbolOpacity":0,"symbolStrokeWidth":0,"labelOffset":0,"labelFont":"Liberation Sans","labelFontSize":17,"labelFontWeight":"bold","labelLimit":400,"rowPadding":16,"labelColor":{"expr":"scale('color', datum.value)"}}},
"order":{"field":"h","type":"quantitative"}}},
{"transform":[{"filter":{"field":"s","equal":"BC measured"}}],
"mark":{"type":"line","strokeWidth":3.5,"clip":true},
"encoding":{
"x":{"field":"c","type":"quantitative","scale":{"type":"log","domain":[0.01,1000],"nice":false},"axis":{"orient":"bottom","values":[0.01,0.1,1,10,100,1000],"labels":false,"domain":false,"tickSize":-9,"title":null}},
"y":{"field":"h","type":"quantitative","scale":{"domain":[0,14],"nice":false},"axis":{"orient":"left","values":[0,2,4,6,8,10,12,14],"labels":false,"domain":false,"tickSize":-10,"title":null}},
"color":{"field":"s","type":"nominal"},
"order":{"field":"h","type":"quantitative"}}},
{"transform":[{"filter":{"field":"s","equal":"Multi-model median (- - -)"}}],
"mark":{"type":"line","strokeWidth":4,"strokeDash":[12,8],"clip":true},
"encoding":{
"x":{"field":"c","type":"quantitative","scale":{"type":"log","domain":[0.01,1000],"nice":false},"axis":{"orient":"bottom","values":[0.02,0.03,0.04,0.05,0.06,0.07,0.08,0.09,0.2,0.3,0.4,0.5,0.6,0.7,0.8,0.9,2,3,4,5,6,7,8,9,20,30,40,50,60,70,80,90,200,300,400,500,600,700,800,900],"labels":false,"domain":false,"tickSize":-5,"title":null}},
"y":{"field":"h","type":"quantitative","scale":{"domain":[0,14],"nice":false},"axis":{"orient":"right","values":[0,2,4,6,8,10,12,14],"labels":false,"domain":true,"domainColor":"#888","tickSize":-10,"title":null}},
"color":{"field":"s","type":"nominal"},
"order":{"field":"h","type":"quantitative"}}},
{"mark":{"type":"point","opacity":0},
"encoding":{
"x":{"field":"c","type":"quantitative","scale":{"type":"log","domain":[0.01,1000],"nice":false},"axis":{"orient":"top","values":[0.01,0.1,1,10,100,1000],"labels":false,"domain":true,"domainColor":"#666","tickSize":-9,"title":null}},
"y":{"field":"h","type":"quantitative","scale":{"domain":[0,14],"nice":false},"axis":null}}},
{"mark":{"type":"point","opacity":0},
"encoding":{
"x":{"field":"c","type":"quantitative","scale":{"type":"log","domain":[0.01,1000],"nice":false},"axis":{"orient":"top","values":[0.02,0.03,0.04,0.05,0.06,0.07,0.08,0.09,0.2,0.3,0.4,0.5,0.6,0.7,0.8,0.9,2,3,4,5,6,7,8,9,20,30,40,50,60,70,80,90,200,300,400,500,600,700,800,900],"labels":false,"domain":false,"tickSize":-5,"title":null}},
"y":{"field":"h","type":"quantitative","scale":{"domain":[0,14],"nice":false},"axis":null}}}
]},
{"title":"All\u00a0\u00a0points\u00a0\u00a0> 60N","width":380,"height":946,"data":{"name":"right"},
"resolve":{"axis":{"x":"independent","y":"independent"}},
"layer":[
{"transform":[{"filter":{"not":{"field":"s","oneOf":["BC measured","Multi-model median (- - -)"]}}}],
"mark":{"type":"line","strokeWidth":1.3,"clip":true},
"encoding":{
"x":{"field":"c","type":"quantitative","scale":{"type":"log","domain":[0.01,745],"nice":false},"axis":{"orient":"bottom","values":[0.1,1,10,100],"format":"~g","ticks":false,"labelPadding":7,"domainColor":"#222","title":"concentration\u00a0\u00a0(ng/m3)","titlePadding":13,"titleX":175}},
"y":{"field":"h","type":"quantitative","scale":{"domain":[0,14],"nice":false},"axis":{"orient":"left","values":[0,2,4,6,8,10,12,14],"ticks":false,"labelPadding":9,"domainColor":"#888","domainWidth":1.5,"title":"height\u00a0\u00a0(km)","titlePadding":12,"titleY":496}},
"color":{"field":"s","type":"nominal"},
"order":{"field":"h","type":"quantitative"}}},
{"transform":[{"filter":{"field":"s","equal":"BC measured"}}],
"mark":{"type":"line","strokeWidth":3.5,"clip":true},
"encoding":{
"x":{"field":"c","type":"quantitative","scale":{"type":"log","domain":[0.01,745],"nice":false},"axis":{"orient":"bottom","values":[0.01,0.1,1,10,100],"labels":false,"domain":false,"tickSize":-9,"title":null}},
"y":{"field":"h","type":"quantitative","scale":{"domain":[0,14],"nice":false},"axis":{"orient":"left","values":[0,2,4,6,8,10,12,14],"labels":false,"domain":false,"tickSize":-10,"title":null}},
"color":{"field":"s","type":"nominal"},
"order":{"field":"h","type":"quantitative"}}},
{"transform":[{"filter":{"field":"s","equal":"Multi-model median (- - -)"}}],
"mark":{"type":"line","strokeWidth":4,"strokeDash":[12,8],"clip":true},
"encoding":{
"x":{"field":"c","type":"quantitative","scale":{"type":"log","domain":[0.01,745],"nice":false},"axis":{"orient":"bottom","values":[0.02,0.03,0.04,0.05,0.06,0.07,0.08,0.09,0.2,0.3,0.4,0.5,0.6,0.7,0.8,0.9,2,3,4,5,6,7,8,9,20,30,40,50,60,70,80,90,200,300,400,500,600,700],"labels":false,"domain":false,"tickSize":-5,"title":null}},
"y":{"field":"h","type":"quantitative","scale":{"domain":[0,14],"nice":false},"axis":null},
"color":{"field":"s","type":"nominal"},
"order":{"field":"h","type":"quantitative"}}},
{"mark":{"type":"point","opacity":0},
"encoding":{
"x":{"field":"c","type":"quantitative","scale":{"type":"log","domain":[0.01,745],"nice":false},"axis":{"orient":"top","values":[0.01,0.1,1,10,100],"labels":false,"domain":true,"domainColor":"#666","tickSize":-9,"title":null}},
"y":{"field":"h","type":"quantitative","scale":{"domain":[0,14],"nice":false},"axis":null}}},
{"mark":{"type":"point","opacity":0},
"encoding":{
"x":{"field":"c","type":"quantitative","scale":{"type":"log","domain":[0.01,745],"nice":false},"axis":{"orient":"top","values":[0.02,0.03,0.04,0.05,0.06,0.07,0.08,0.09,0.2,0.3,0.4,0.5,0.6,0.7,0.8,0.9,2,3,4,5,6,7,8,9,20,30,40,50,60,70,80,90,200,300,400,500,600,700],"labels":false,"domain":false,"tickSize":-5,"title":null}},
"y":{"field":"h","type":"quantitative","scale":{"domain":[0,14],"nice":false},"axis":null}}}
]}
]}
